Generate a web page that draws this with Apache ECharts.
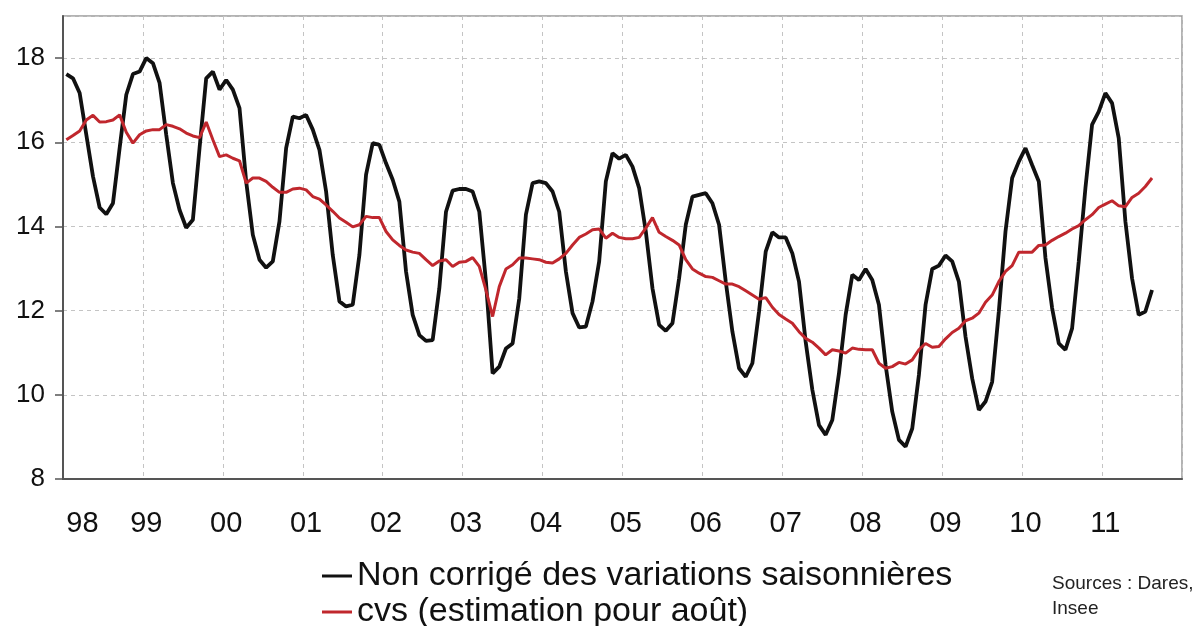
<!DOCTYPE html>
<html>
<head>
<meta charset="utf-8">
<script src="https://cdn.jsdelivr.net/npm/echarts@6/dist/echarts.min.js"></script>
<style>html,body{margin:0;padding:0;background:#fff}#c{width:1200px;height:626px}</style>
</head>
<body>
<div id="c"></div>
<script>
// Tick labels (years) and month codes -> monthly categories Jan 1998 .. Dec 2011
const yearLabels = ['98','99','00','01','02','03','04','05','06','07','08','09','10','11'];
const monthCodes = ['01','02','03','04','05','06','07','08','09','10','11','12'];
const categories = [];
yearLabels.forEach(y => monthCodes.forEach(m => categories.push(y + '-' + m)));

const seriesNames = ['Non corrigé des variations saisonnières', 'cvs (estimation pour août)'];

// Non corrigé des variations saisonnières (Jan 1998 .. Aug 2011)
const nsa = [
17.62,17.52,17.17,16.18,15.19,14.45,14.29,14.55,15.86,17.13,17.62,17.68,
18.00,17.88,17.41,16.18,15.03,14.39,13.97,14.16,15.86,17.52,17.68,17.25,
17.48,17.25,16.81,15.07,13.80,13.21,13.02,13.17,14.12,15.86,16.61,16.57,
16.65,16.30,15.82,14.83,13.32,12.22,12.10,12.14,13.32,15.23,15.98,15.94,
15.50,15.11,14.59,12.93,11.90,11.42,11.28,11.30,12.53,14.35,14.85,14.89,
14.89,14.83,14.35,12.69,10.51,10.67,11.10,11.22,12.29,14.28,15.03,15.07,
15.03,14.83,14.35,12.93,11.94,11.60,11.62,12.22,13.17,15.07,15.74,15.61,
15.70,15.42,14.91,13.88,12.53,11.66,11.52,11.70,12.77,14.04,14.71,14.75,
14.79,14.55,14.04,12.69,11.50,10.63,10.43,10.75,11.98,13.40,13.86,13.74,
13.74,13.36,12.69,11.26,10.12,9.28,9.05,9.40,10.51,11.90,12.85,12.73,
12.99,12.73,12.14,10.71,9.60,8.93,8.77,9.20,10.47,12.14,12.99,13.07,
13.31,13.17,12.69,11.38,10.39,9.64,9.84,10.31,11.98,13.88,15.15,15.54,
15.86,15.46,15.07,13.25,12.06,11.22,11.07,11.58,13.17,14.91,16.42,16.73,
17.17,16.93,16.10,14.12,12.77,11.90,11.98,12.49
];

// cvs (Jan 1998 .. Aug 2011)
const sa = [
16.06,16.16,16.27,16.53,16.64,16.48,16.49,16.53,16.65,16.24,15.98,16.18,
16.27,16.30,16.30,16.42,16.38,16.32,16.22,16.15,16.11,16.48,16.06,15.66,
15.70,15.62,15.56,15.03,15.15,15.15,15.07,14.93,14.81,14.81,14.89,14.91,
14.87,14.71,14.65,14.51,14.36,14.20,14.10,13.99,14.04,14.24,14.21,14.21,
13.88,13.68,13.55,13.44,13.39,13.36,13.21,13.07,13.18,13.21,13.05,13.15,
13.17,13.26,13.05,12.49,11.86,12.57,12.99,13.09,13.25,13.25,13.23,13.21,
13.15,13.13,13.23,13.36,13.56,13.74,13.82,13.92,13.94,13.72,13.84,13.74,
13.71,13.71,13.74,13.96,14.21,13.86,13.76,13.67,13.56,13.21,12.99,12.89,
12.81,12.79,12.71,12.63,12.63,12.57,12.47,12.37,12.27,12.31,12.08,11.91,
11.80,11.70,11.50,11.34,11.25,11.11,10.95,11.07,11.04,10.99,11.11,11.08,
11.07,11.07,10.75,10.63,10.67,10.77,10.73,10.83,11.07,11.22,11.13,11.15,
11.33,11.48,11.58,11.76,11.82,11.94,12.20,12.37,12.69,12.93,13.07,13.39,
13.39,13.39,13.55,13.56,13.67,13.76,13.84,13.94,14.02,14.16,14.28,14.45,
14.53,14.61,14.49,14.47,14.69,14.79,14.95,15.15
];

const sourceLines = ['Sources : Dares,', 'Insee'];

const FONT = '"Liberation Sans", Arial, sans-serif';
const chart = echarts.init(document.getElementById('c'), null, {renderer: 'canvas'});
chart.setOption({
  backgroundColor: '#fff',
  animation: false,
  grid: {left: 63, right: 18, top: 16, bottom: 147, show: true, borderColor: '#9a9a9a', borderWidth: 1.5, backgroundColor: 'transparent'},
  legend: {
    orient: 'vertical', left: 322, top: 559, width: 700, height: 120, padding: 0, itemGap: 2,
    icon: 'rect', itemWidth: 30, itemHeight: 3,
    textStyle: {fontFamily: FONT, fontSize: 34, lineHeight: 34, color: '#111'},
    data: seriesNames
  },
  xAxis: {
    type: 'category', data: categories, boundaryGap: true,
    axisLine: {lineStyle: {color: '#555', width: 2}},
    axisTick: {interval: 11, length: 7, lineStyle: {color: '#555', width: 1.5}},
    axisLabel: {interval: 11, formatter: v => v.split('-')[0], fontFamily: FONT, fontSize: 29, color: '#111', margin: 30, alignMinLabel: 'left'},
    splitLine: {show: true, interval: 11, lineStyle: {type: [4, 4], color: '#c4c4c4', width: 1}}
  },
  yAxis: {
    type: 'value', min: 8, max: 19, interval: 2,
    axisLine: {show: true, lineStyle: {color: '#555', width: 2}},
    axisTick: {show: true, length: 8, lineStyle: {color: '#555', width: 1.5}},
    axisLabel: {fontFamily: FONT, fontSize: 26, color: '#111', margin: 18, showMaxLabel: false},
    splitLine: {show: true, lineStyle: {type: [4, 4], color: '#c4c4c4', width: 1}}
  },
  series: [
    {name: seriesNames[0], type: 'line', data: nsa, symbol: 'none', color: '#111', lineStyle: {width: 3.8, color: '#111'}, z: 2},
    {name: seriesNames[1], type: 'line', data: sa, symbol: 'none', color: '#c0272d', lineStyle: {width: 3, color: '#c0272d'}, z: 3}
  ],
  graphic: sourceLines.map((t, i) => ({
    type: 'text', left: 1052, top: 574 + i * 25,
    style: {text: t, font: '19px ' + FONT, fill: '#222'}
  }))
});
</script>
</body>
</html>
